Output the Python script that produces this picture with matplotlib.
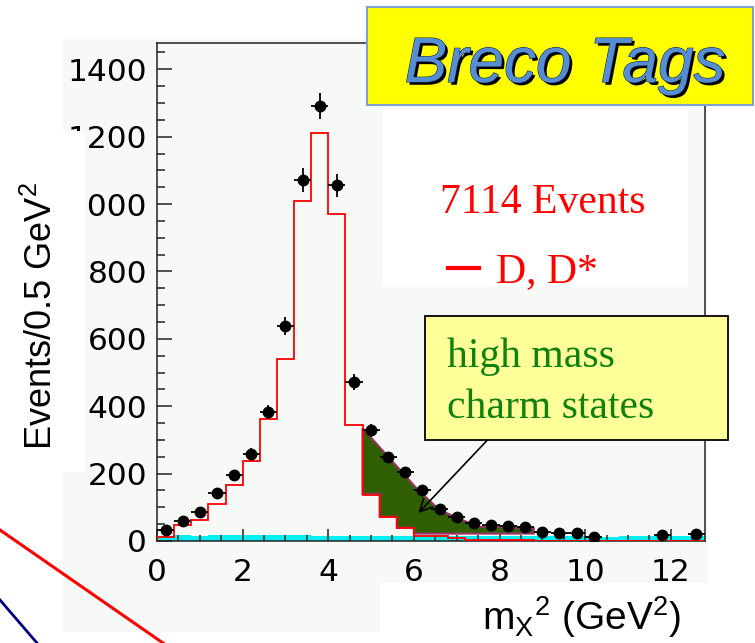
import numpy as np
import matplotlib
matplotlib.use("Agg")
import matplotlib.pyplot as plt
from matplotlib.patches import Rectangle
from matplotlib.lines import Line2D
import matplotlib.patheffects as pe

plt.rcParams['font.family'] = 'DejaVu Sans'
plt.rcParams['mathtext.fontset'] = 'custom'
plt.rcParams['mathtext.rm'] = 'Liberation Sans'
plt.rcParams['mathtext.it'] = 'Liberation Sans:italic'

# ---- data, bins of 0.4 from 0 to 12.8
bin_edges = np.linspace(0, 12.8, 33)
bin_centers = 0.5 * (bin_edges[:-1] + bin_edges[1:])

# D, D* expectation (red histogram)
dd_counts = [12, 47, 62, 110, 166, 237, 362, 540, 1009, 1211, 970, 344,
             136, 70, 38, 15, 15, 9, 3, 3, 2, 2, 1, 1, 1, 0, 0, 0, 0, 0, 0, 0]
# combinatorial background (cyan)
bkg_counts = [11, 18, 16, 17, 18, 17, 19, 18, 17, 16, 15, 16, 15, 14, 15, 16,
              17, 16, 15, 15, 14, 15, 16, 16, 15, 14, 13, 14, 15, 14, 15, 14]
# data points and errors
data_counts = [33, 59, 86, 142, 196, 258, 383, 638, 1071, 1291, 1056, 472,
               329, 249, 204, 150, 94, 71, 53, 48, 45, 42, 27, 24, 24, 12,
               np.nan, np.nan, np.nan, 18, np.nan, 22]
data_err = [7, 9, 10, 13, 15, 17, 21, 27, 35, 38, 34, 23, 19, 16, 15, 13,
            11, 9, 8, 8, 7, 7, 6, 5, 5, 4, 0, 0, 0, 4, 0, 5]
# high mass charm states (green area)
hm_top_x = [4.8, 6.1, 6.6, 7.5, 8.8]
hm_top_y = [335, 151, 92, 42, 38]
hm_bot_edges = [4.8, 5.2, 5.6, 6.0, 8.8]
hm_bot_y = [140, 72, 40, 22]

W, H = 755, 643
def fx(px):
    return px / W
def fy(py):
    return 1 - py / H

fig = plt.figure(figsize=(7.55, 6.43), dpi=100)
fig.patch.set_facecolor('white')
bg = '#f7f9f7'

# light background of the pasted plot
fig.patches.append(Rectangle((fx(63), fy(632)), fx(708) - fx(63), fy(39) - fy(632),
                             transform=fig.transFigure, facecolor=bg,
                             edgecolor='none', zorder=-10))

ax = fig.add_axes([fx(157), fy(541), fx(705) - fx(157), fy(43) - fy(541)])
ax.set_facecolor(bg)

ax.stairs(bkg_counts, bin_edges, fill=True, color='#00f0f0', zorder=1)
ax.stairs(dd_counts, bin_edges, color='red', lw=1.3, zorder=3)

# green area: top line through the points, bottom on the histogram steps
poly_x = list(hm_top_x)
poly_y = list(hm_top_y)
for i in range(len(hm_bot_y) - 1, -1, -1):
    poly_x += [hm_bot_edges[i + 1], hm_bot_edges[i]]
    poly_y += [hm_bot_y[i], hm_bot_y[i]]
ax.fill(poly_x, poly_y, facecolor='#2f5f00', edgecolor='#993366', lw=1.5, zorder=2)

ax.errorbar(bin_centers, data_counts, yerr=data_err, xerr=0.2, fmt='o',
            color='black', ms=7.5, elinewidth=1.3, capsize=0, zorder=4)

ax.set_xlim(0, 12.8)
ax.set_ylim(0, 1478)
ax.set_xticks(range(0, 13, 2))
ax.set_xticks(np.arange(0, 12.8, 0.5), minor=True)
ax.set_yticks(range(0, 1401, 200))
ax.set_yticks(range(0, 1451, 50), minor=True)
ax.tick_params(which='both', direction='in', labelsize=22.5, color='#222222', width=1.1)
ax.tick_params(axis='y', which='major', length=10.5, pad=7)
ax.tick_params(axis='y', which='minor', length=6)
ax.tick_params(axis='x', which='major', length=9, pad=12)
ax.tick_params(axis='x', which='minor', length=4.5)
for s in ax.spines.values():
    s.set_linewidth(1.1)
    s.set_color('#222222')

# arrow to the green area
ax.annotate('', xy=(6.06, 77), xytext=(7.81, 312),
            arrowprops=dict(arrowstyle='->', color='black', lw=1.2,
                            mutation_scale=22), zorder=6)

# white label boxes of the slide
fig.patches.append(Rectangle((fx(0), fy(472)), fx(85), fy(131) - fy(472),
                             transform=fig.transFigure, facecolor='white',
                             edgecolor='none', zorder=5))
fig.patches.append(Rectangle((fx(380), fy(643)), fx(755) - fx(380), fy(583) - fy(643),
                             transform=fig.transFigure, facecolor='white',
                             edgecolor='none', zorder=5))
fig.patches.append(Rectangle((fx(383), fy(287)), fx(688) - fx(383), fy(110) - fy(287),
                             transform=fig.transFigure, facecolor='white',
                             edgecolor='none', zorder=1))

fig.text(fx(42), fy(316), r'Events/0.5 GeV$^\mathrm{2}$', rotation=90,
         ha='center', va='center', fontsize=26, family='Liberation Sans', zorder=6)
fig.text(fx(582), fy(630), r'm$_\mathrm{X}$$^\mathrm{2}$ (GeV$^\mathrm{2}$)',
         ha='center', va='baseline', fontsize=28, family='Liberation Sans', zorder=6)

# title box
fig.patches.append(Rectangle((fx(367), fy(105)), fx(753) - fx(367), fy(7) - fy(105),
                             transform=fig.transFigure, facecolor='#ffff00',
                             edgecolor='#7f9fcf', lw=1.5, zorder=7))
fig.text(fx(565), fy(82), 'Breco Tags', ha='center', va='baseline', fontsize=46,
         family='Liberation Sans', style='italic', color='#558ed5', zorder=8,
         path_effects=[pe.withSimplePatchShadow(offset=(2, -2), shadow_rgbFace='black', alpha=1.0),
                       pe.withStroke(linewidth=0.8, foreground='#1a2a40')])

# event count and legend
fig.text(fx(440), fy(213), '7114 Events', ha='left', va='baseline', fontsize=30,
         family='Liberation Serif', color='red', zorder=8)
leg = fig.legend(handles=[Line2D([], [], color='red', lw=3)], labels=['D, D*'],
                 loc='center left', bbox_to_anchor=(fx(448), fy(272)),
                 frameon=False, prop={'family': 'Liberation Serif', 'size': 30},
                 handlelength=0.75, handletextpad=0.4, borderpad=0, borderaxespad=0)
for t in leg.get_texts():
    t.set_color('red')

# high mass box
fig.patches.append(Rectangle((fx(425), fy(440)), fx(728) - fx(425), fy(316) - fy(440),
                             transform=fig.transFigure, facecolor='#ffff99',
                             edgecolor='black', lw=1.3, zorder=7))
fig.text(fx(447), fy(367), 'high mass', ha='left', va='baseline', fontsize=30,
         family='Liberation Serif', color='#108010', zorder=8)
fig.text(fx(447), fy(418), 'charm states', ha='left', va='baseline', fontsize=30,
         family='Liberation Serif', color='#108010', zorder=8)

# slide decoration lines
fig.add_artist(Line2D([fx(0), fx(163)], [fy(530), fy(643)], color='red', lw=2.2,
                      transform=fig.transFigure, zorder=9))
fig.add_artist(Line2D([fx(0), fx(37)], [fy(600), fy(643)], color='#000080', lw=2.0,
                      transform=fig.transFigure, zorder=9))

fig.savefig('out.png', dpi=100)
